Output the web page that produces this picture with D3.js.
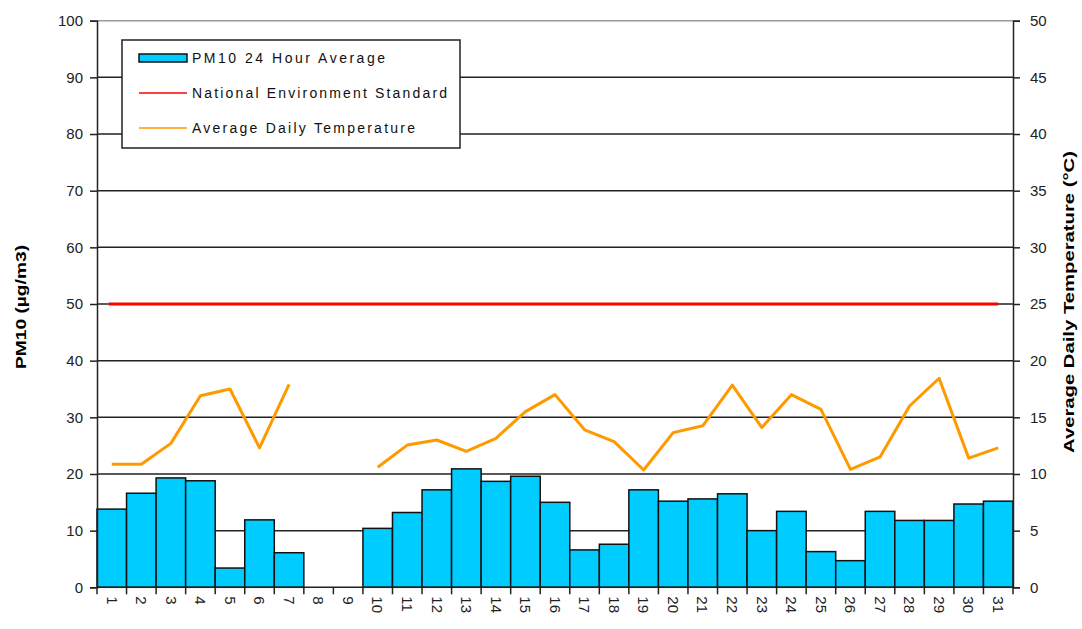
<!DOCTYPE html>
<html>
<head>
<meta charset="utf-8">
<script src="https://d3js.org/d3.v7.min.js"></script>
<style>
  body { margin: 0; background: #fff; }
  text { font-family: "Liberation Sans", Arial, sans-serif; }
</style>
</head>
<body>
<svg id="chart" width="1082" height="629"></svg>
<script>
// days of the month
const days = d3.range(1, 32).map(String);
// PM10 24 hour average (µg/m3), null = no data
const pm10 = [13.8, 16.6, 19.3, 18.8, 3.4, 11.9, 6.1, null, null, 10.4,
  13.2, 17.2, 20.9, 18.7, 19.6, 15.0, 6.6, 7.6, 17.2, 15.2,
  15.6, 16.5, 10.0, 13.4, 6.3, 4.7, 13.4, 11.8, 11.8, 14.7, 15.2];
// average daily temperature (°C)
const temp = [10.85, 10.85, 12.7, 16.9, 17.5, 12.3, 17.9, null, null, 10.6,
  12.55, 13.0, 12.0, 13.15, 15.5, 17.0, 13.9, 12.85, 10.35, 13.65,
  14.25, 17.85, 14.1, 17.0, 15.7, 10.4, 11.5, 16.0, 18.45, 11.4, 12.3];
const standard = 50;
const leftTicks = d3.range(0, 101, 10);
const rightTicks = d3.range(0, 51, 5);
const legendLabels = ["PM10 24 Hour Average", "National Environment Standard", "Average Daily Temperature"];
const legendWidths = [193, 255, 223];

const svg = d3.select("#chart");
const L = 97, R = 1013, T = 20.7, B = 587.3;

const x = d3.scaleBand().domain(days).range([L, R]).padding(0);
const y = d3.scaleLinear().domain([0, 100]).range([B, T]);
const y2 = d3.scaleLinear().domain([0, 50]).range([B, T]);

// gridlines
svg.append("g").selectAll("line").data(leftTicks.filter(d => d > 0)).join("line")
  .attr("x1", L).attr("x2", R)
  .attr("y1", d => y(d)).attr("y2", d => y(d))
  .attr("stroke", d => d === 100 ? "#999" : "#222").attr("stroke-width", 1.5);

// bars
svg.append("g").selectAll("rect").data(days.map((d, i) => ({d, v: pm10[i]})).filter(o => o.v != null))
  .join("rect")
  .attr("x", o => x(o.d)).attr("width", x.bandwidth())
  .attr("y", o => y(o.v)).attr("height", o => B - y(o.v))
  .attr("fill", "#00CCFF").attr("stroke", "#111").attr("stroke-width", 1.5);

// standard line
svg.append("line")
  .attr("x1", x("1") + x.bandwidth() / 2 - 3).attr("x2", x("31") + x.bandwidth() / 2)
  .attr("y1", y(standard)).attr("y2", y(standard))
  .attr("stroke", "#FF0000").attr("stroke-width", 3);

// temperature line
const line = d3.line()
  .defined(d => d.v != null)
  .x(d => x(d.d) + x.bandwidth() / 2)
  .y(d => y2(d.v));
svg.append("path").datum(days.map((d, i) => ({d, v: temp[i]})))
  .attr("d", line).attr("fill", "none")
  .attr("stroke", "#FF9900").attr("stroke-width", 3).attr("stroke-linejoin", "round");

// left axis
const gl = svg.append("g").attr("transform", `translate(${L},0)`)
  .call(d3.axisLeft(y).tickValues(leftTicks).tickSize(7).tickPadding(7));
// right axis
const gr = svg.append("g").attr("transform", `translate(${R},0)`)
  .call(d3.axisRight(y2).tickValues(rightTicks).tickSize(7).tickPadding(10));
// bottom axis
const gb = svg.append("g").attr("transform", `translate(0,${B})`)
  .call(d3.axisBottom(x).tickSize(0).tickPadding(0));
[gl, gr, gb].forEach(g => {
  g.select(".domain").attr("stroke", "#222").attr("stroke-width", 1.5);
  g.selectAll(".tick line").attr("stroke", "#222").attr("stroke-width", 1.5);
  g.selectAll("text").attr("font-size", 15).attr("fill", "#222");
});
gb.select(".domain").attr("d", `M${L},0H${R}`);
gb.selectAll(".tick text")
  .attr("transform", "rotate(90)")
  .attr("x", 9).attr("y", 0).attr("dy", "0.35em")
  .attr("text-anchor", "start");
// band boundary ticks
gb.append("g").selectAll("line").data(days.concat(["end"])).join("line")
  .attr("x1", d => d === "end" ? R : x(d)).attr("x2", d => d === "end" ? R : x(d))
  .attr("y1", 0).attr("y2", 7).attr("stroke", "#222").attr("stroke-width", 1.5);

// axis titles
svg.append("text").attr("transform", "translate(26,307) rotate(-90)")
  .attr("text-anchor", "middle").attr("font-size", 15).attr("font-weight", "bold")
  .attr("textLength", 124).attr("lengthAdjust", "spacingAndGlyphs")
  .text("PM10 (µg/m3)");
svg.append("text").attr("transform", "translate(1074,302) rotate(-90)")
  .attr("text-anchor", "middle").attr("font-size", 15).attr("font-weight", "bold")
  .attr("textLength", 302).attr("lengthAdjust", "spacingAndGlyphs")
  .text("Average Daily Temperature (°C)");

// legend
const lg = svg.append("g");
lg.append("rect").attr("x", 122).attr("y", 40).attr("width", 338).attr("height", 108)
  .attr("fill", "#fff").attr("stroke", "#222").attr("stroke-width", 1.5);
const ly = [58, 93, 128];
lg.append("rect").attr("x", 139).attr("y", ly[0] - 4).attr("width", 48).attr("height", 8)
  .attr("fill", "#00CCFF").attr("stroke", "#111").attr("stroke-width", 1.5);
lg.append("line").attr("x1", 139).attr("x2", 187).attr("y1", ly[1]).attr("y2", ly[1])
  .attr("stroke", "#FF0000").attr("stroke-width", 1.5);
lg.append("line").attr("x1", 139).attr("x2", 187).attr("y1", ly[2]).attr("y2", ly[2])
  .attr("stroke", "#FF9900").attr("stroke-width", 1.5);
lg.selectAll("text.lab").data(legendLabels).join("text").attr("class", "lab")
  .attr("x", 192).attr("y", (d, i) => ly[i]).attr("dy", "0.35em")
  .attr("font-size", 14).attr("fill", "#111")
  .attr("textLength", (d, i) => legendWidths[i]).attr("lengthAdjust", "spacing")
  .text(d => d);
</script>
</body>
</html>
